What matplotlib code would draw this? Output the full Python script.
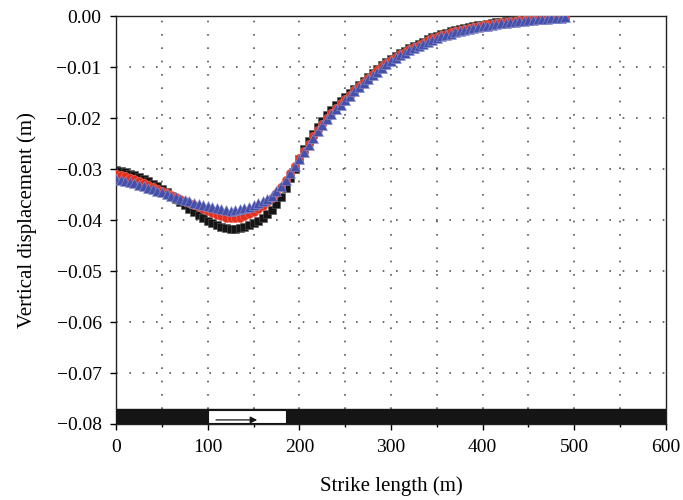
import matplotlib
matplotlib.use('Agg')
import matplotlib.pyplot as plt
import numpy as np
from matplotlib.patches import Rectangle

# strike positions (m), 5 m spacing from 0 to 490
x = np.arange(0, 495, 5)

black = [
    -0.0301, -0.0303, -0.0306, -0.0309, -0.0312, -0.0316, -0.0320, -0.0324, -0.0329, -0.0334,
    -0.0340, -0.0346, -0.0352, -0.0358, -0.0365, -0.0371, -0.0378, -0.0384, -0.0390, -0.0396,
    -0.0401, -0.0406, -0.0410, -0.0413, -0.0416, -0.0417, -0.0417, -0.0416, -0.0413, -0.0410,
    -0.0406, -0.0402, -0.0396, -0.0389, -0.0380, -0.0368, -0.0354, -0.0337, -0.0318, -0.0300,
    -0.0280, -0.0261, -0.0245, -0.0231, -0.0218, -0.0206, -0.0195, -0.0185, -0.0175, -0.0167,
    -0.0159, -0.0151, -0.0143, -0.0135, -0.0127, -0.0119, -0.0112, -0.0104, -0.0097, -0.0090,
    -0.0084, -0.0078, -0.0073, -0.0068, -0.0063, -0.0058, -0.0054, -0.0050, -0.0046, -0.0042,
    -0.0039, -0.0036, -0.0033, -0.0030, -0.0028, -0.0026, -0.0024, -0.0022, -0.0020, -0.0018,
    -0.0017, -0.0015, -0.0014, -0.0012, -0.0011, -0.0010, -0.0009, -0.0008, -0.0007, -0.0006,
    -0.0005, -0.0004, -0.0004, -0.0003, -0.0003, -0.0002, -0.0002, -0.0001, -0.0001]

red = [
    -0.0310, -0.0312, -0.0314, -0.0317, -0.0320, -0.0323, -0.0327, -0.0331, -0.0335, -0.0339,
    -0.0343, -0.0347, -0.0351, -0.0355, -0.0359, -0.0363, -0.0367, -0.0371, -0.0375, -0.0379,
    -0.0383, -0.0387, -0.0390, -0.0393, -0.0396, -0.0397, -0.0397, -0.0396, -0.0393, -0.0389,
    -0.0385, -0.0379, -0.0373, -0.0365, -0.0357, -0.0347, -0.0335, -0.0322, -0.0308, -0.0294,
    -0.0279, -0.0265, -0.0250, -0.0236, -0.0223, -0.0211, -0.0200, -0.0190, -0.0180, -0.0171,
    -0.0163, -0.0155, -0.0146, -0.0138, -0.0130, -0.0122, -0.0114, -0.0106, -0.0099, -0.0092,
    -0.0086, -0.0080, -0.0075, -0.0070, -0.0065, -0.0060, -0.0056, -0.0052, -0.0048, -0.0044,
    -0.0041, -0.0038, -0.0035, -0.0032, -0.0030, -0.0027, -0.0025, -0.0023, -0.0021, -0.0019,
    -0.0018, -0.0016, -0.0015, -0.0013, -0.0012, -0.0011, -0.0010, -0.0009, -0.0008, -0.0007,
    -0.0006, -0.0005, -0.0005, -0.0004, -0.0004, -0.0003, -0.0002, -0.0002, -0.0001]

blue = [
    -0.0320, -0.0322, -0.0323, -0.0326, -0.0328, -0.0331, -0.0334, -0.0337, -0.0340, -0.0343,
    -0.0346, -0.0349, -0.0352, -0.0355, -0.0358, -0.0361, -0.0363, -0.0366, -0.0368, -0.0370,
    -0.0372, -0.0375, -0.0377, -0.0379, -0.0381, -0.0382, -0.0380, -0.0379, -0.0377, -0.0374,
    -0.0371, -0.0367, -0.0363, -0.0358, -0.0352, -0.0344, -0.0334, -0.0322, -0.0308, -0.0294,
    -0.0280, -0.0266, -0.0252, -0.0239, -0.0225, -0.0214, -0.0202, -0.0192, -0.0182, -0.0174,
    -0.0165, -0.0157, -0.0148, -0.0140, -0.0132, -0.0124, -0.0116, -0.0109, -0.0101, -0.0095,
    -0.0088, -0.0083, -0.0077, -0.0072, -0.0067, -0.0063, -0.0058, -0.0054, -0.0050, -0.0047,
    -0.0043, -0.0040, -0.0037, -0.0035, -0.0032, -0.0030, -0.0027, -0.0025, -0.0023, -0.0022,
    -0.0020, -0.0019, -0.0017, -0.0016, -0.0014, -0.0013, -0.0012, -0.0011, -0.0010, -0.0009,
    -0.0008, -0.0007, -0.0006, -0.0006, -0.0005, -0.0004, -0.0003, -0.0003, -0.0002]

# fault trace shown in the bar at the bottom (m)
fault_start, fault_end = 100, 185
arrow_start, arrow_end = 106, 157

plt.rcParams['font.family'] = ['Liberation Serif', 'DejaVu Serif']

fig = plt.figure(figsize=(6.83, 5.0), dpi=100)
ax = fig.add_axes([0.170, 0.152, 0.805, 0.816])

ax.set_xlim(0, 600)
ax.set_ylim(-0.08, 0.0)

# dotted grid
for gx in np.arange(50, 600, 50):
    ax.plot([gx, gx], [-0.077, 0], color='#555555', lw=1.2, ls=(0, (1, 7)), zorder=1)
for gy in np.arange(-0.07, 0.0, 0.01):
    ax.plot([0, 600], [gy, gy], color='#555555', lw=1.2, ls=(0, (1, 7)), zorder=1)

ax.plot(x, black, ls='none', marker='s', ms=6, color='#151515', mec='#555555', mew=0.4, zorder=3)
ax.plot(x, red, ls='none', marker='o', ms=6, color='#e3301f', mec='#f07060', mew=0.4, zorder=4)
ax.plot(x, blue, ls='none', marker='^', ms=7.5, color='#4650a8', mec='#8c92d0', mew=0.4, zorder=5)

# bar with fault segment
ax.axhspan(-0.08, -0.0771, color='#151515', zorder=6)
ax.add_patch(Rectangle((fault_start, -0.0799), fault_end - fault_start, 0.0027,
                       facecolor='white', edgecolor='#151515', lw=0.8, zorder=7))
ax.annotate('', xy=(arrow_end, -0.0792), xytext=(arrow_start, -0.0792),
            arrowprops=dict(arrowstyle='-|>', color='#151515', lw=0.9, mutation_scale=10),
            zorder=8)

ax.set_xticks(np.arange(0, 601, 100))
ax.set_xticks(np.arange(50, 600, 100), minor=True)
ax.set_yticks(np.arange(-0.08, 0.0001, 0.01))
ax.set_yticklabels(['\u22120.08', '\u22120.07', '\u22120.06', '\u22120.05', '\u22120.04',
                    '\u22120.03', '\u22120.02', '\u22120.01', '0.00'])
ax.tick_params(axis='both', which='major', direction='out', length=4.5, width=1, labelsize=14)
ax.tick_params(axis='x', which='minor', direction='out', length=2.5, width=1)
ax.tick_params(axis='x', pad=6)
ax.tick_params(axis='y', pad=6)

for s in ax.spines.values():
    s.set_linewidth(1.0)
    s.set_color('#222222')

ax.set_xlabel('Strike length (m)', fontsize=15, labelpad=15)
ax.set_ylabel('Vertical displacement (m)', fontsize=15, labelpad=14)

plt.savefig('out.png', dpi=100, facecolor='white')
plt.close()
